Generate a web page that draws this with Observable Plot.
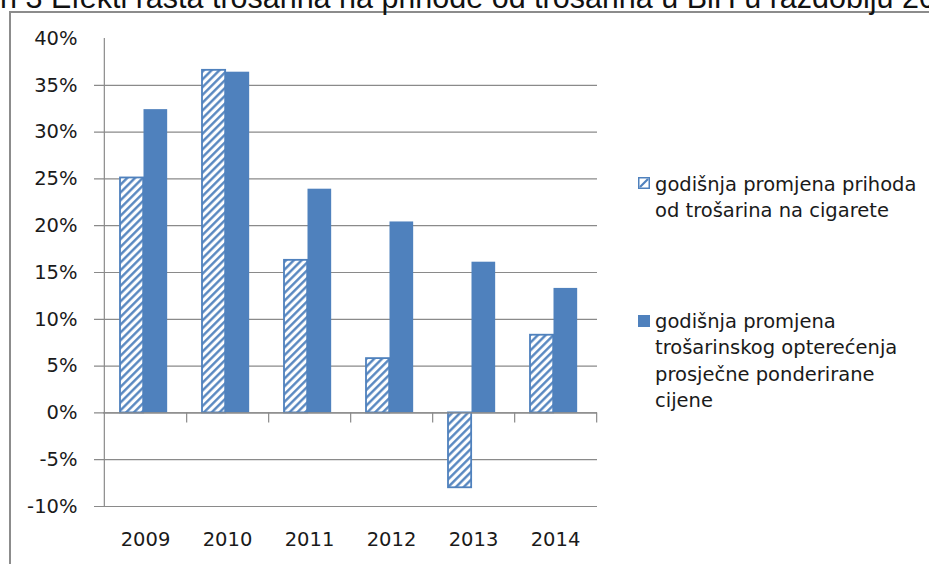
<!DOCTYPE html>
<html>
<head>
<meta charset="utf-8">
<script src="https://cdn.jsdelivr.net/npm/d3@7"></script>
<script src="https://cdn.jsdelivr.net/npm/@observablehq/plot@0.6"></script>
<style>
  html, body { margin: 0; padding: 0; background: #fff; }
  #wrap { position: relative; width: 929px; height: 564px; overflow: hidden; background: #fff; }
  #frame { position: absolute; left: 9px; top: 11px; width: 1200px; height: 1200px; border: 2px solid #8c8c8c; box-sizing: border-box; }
  #chart { position: absolute; left: 0; top: 0; }
  #titlesvg { position: absolute; left: 0; top: 0; }
  .leg { position: absolute; font-family: "DejaVu Sans", sans-serif; font-size: 19.5px; line-height: 26.5px; color: #1a1a1a; white-space: nowrap; }
  .sw { position: absolute; }
</style>
</head>
<body>
<div id="wrap">
  <div id="frame"></div>
  <div id="chart"></div>
  <svg id="titlesvg" width="929" height="20"></svg>
</div>
<script>
// ---- data ----
const years = ["2009", "2010", "2011", "2012", "2013", "2014"];
const revenueChange = [25.1, 36.6, 16.3, 5.8, -8.0, 8.3];   // godišnja promjena prihoda od trošarina na cigarete (%)
const burdenChange  = [32.4, 36.4, 23.9, 20.4, 16.1, 13.3]; // godišnja promjena trošarinskog opterećenja (%)
const yTickValues = [-10, -5, 0, 5, 10, 15, 20, 25, 30, 35, 40];
const gridValues = [-10, -5, 0, 5, 10, 15, 20, 25, 30, 35];
const legendRevenue = ["godišnja promjena prihoda", "od trošarina na cigarete"];
const legendBurden = ["godišnja promjena", "trošarinskog opterećenja", "prosječne ponderirane", "cijene"];
const titleText = "Grafikon 3 Efekti rasta trošarina na prihode od trošarina u BiH u razdoblju 2009-2014";
const titleHiddenPrefix = "Grafiko";

const revRows = years.map((y, i) => ({year: y, value: revenueChange[i]}));
const burRows = years.map((y, i) => ({year: y, value: burdenChange[i]}));

// ---- layout ----
const W = 929, H = 564;
const mL = 103, mR = 332, mT = 38, mB = 58;
const step = (W - mL - mR) / years.length;
const blue = "#4F81BD";
const gridColor = "#8a8a8a";

const svg = Plot.plot({
  width: W, height: H,
  marginLeft: mL, marginRight: mR, marginTop: mT, marginBottom: mB,
  style: {fontFamily: "DejaVu Sans, sans-serif", fontSize: "19.5px", color: "#1a1a1a", background: "transparent", overflow: "visible"},
  x: {domain: years, padding: 0, axis: null},
  y: {domain: [-10, 40], axis: null},
  marks: [
    Plot.ruleY(gridValues, {y: d => d, stroke: gridColor, strokeWidth: 1.2, insetLeft: -9}),
    Plot.barY(revRows, {x: "year", y: "value", fill: "url(#hatch)", stroke: blue, strokeWidth: 1.8, insetLeft: 16, insetRight: step - 39.5}),
    Plot.barY(burRows, {x: "year", y: "value", fill: blue, insetLeft: 39.5, insetRight: step - 63.5}),
    Plot.ruleX([years[0]], {x: d => d, dx: -step / 2, y1: -10, y2: 40, stroke: gridColor, strokeWidth: 1.2}),
    Plot.ruleY([0], {y: d => d, stroke: gridColor, strokeWidth: 1.2}),
    Plot.ruleX(years, {x: d => d, dx: step / 2, y1: 0, y2: 0, insetBottom: -10, stroke: gridColor, strokeWidth: 1.2}),
    Plot.text(yTickValues, {y: d => d, text: d => d + "%", frameAnchor: "left", textAnchor: "end", dx: -26, fill: "#1a1a1a"}),
    Plot.text(years, {x: d => d, text: d => d, frameAnchor: "bottom", dy: 39, fill: "#1a1a1a"})
  ]
});

d3.select(svg).insert("defs", ":first-child").html(
  `<pattern id="hatch" patternUnits="userSpaceOnUse" width="5.5" height="5.5" patternTransform="rotate(45)">
     <rect width="5.5" height="5.5" fill="#fff"/>
     <line x1="1.3" y1="-1" x2="1.3" y2="7" stroke="${blue}" stroke-width="2.3"/>
   </pattern>`);
document.getElementById("chart").appendChild(svg);

// ---- title (clipped at the top like the reference) ----
const cv = document.createElement("canvas").getContext("2d");
cv.font = '30.5px "Liberation Sans"';
const prefixW = cv.measureText(titleHiddenPrefix).width;
d3.select("#titlesvg").append("text")
  .attr("x", -prefixW).attr("y", 7.5)
  .attr("font-family", "Liberation Sans, Arial, sans-serif")
  .attr("font-size", 30.5).attr("fill", "#111")
  .text(titleText);

// ---- legend ----
const wrap = document.getElementById("wrap");
function addLegend(lines, top, swatchTop, hatched) {
  const sw = document.createElementNS("http://www.w3.org/2000/svg", "svg");
  sw.setAttribute("class", "sw");
  sw.setAttribute("width", 14); sw.setAttribute("height", 14);
  sw.style.left = "637px"; sw.style.top = swatchTop + "px";
  sw.innerHTML = hatched
    ? `<rect x="1" y="1" width="12" height="12" fill="${blue}"/><rect x="2.5" y="2.5" width="9" height="9" fill="#fff"/><line x1="3" y1="11" x2="11" y2="3" stroke="${blue}" stroke-width="2.2"/>`
    : `<rect x="1" y="1" width="12" height="12" fill="${blue}"/>`;
  wrap.appendChild(sw);
  const div = document.createElement("div");
  div.className = "leg";
  div.style.left = "655px"; div.style.top = top + "px";
  div.innerHTML = lines.join("<br>");
  wrap.appendChild(div);
}
addLegend(legendRevenue, 171.5, 176, true);
addLegend(legendBurden, 308.5, 314, false);
</script>
</body>
</html>
